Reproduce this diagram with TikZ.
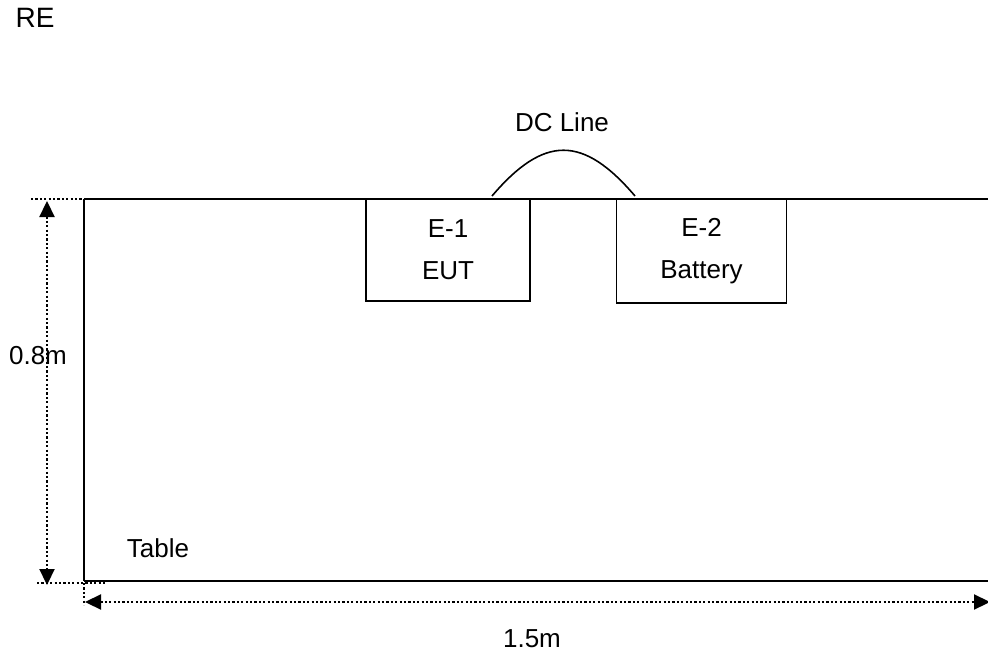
\documentclass[tikz,border=0pt]{standalone}
\usepackage{fontspec}
\setmainfont{Liberation Sans}
\usetikzlibrary{arrows.meta}

\begin{document}
\begin{tikzpicture}[x=1pt,y=-1pt,
    table/.style={line width=2.4pt},
    unitbox/.style={draw,line width=1.6pt,align=center,inner sep=0pt,
        font=\fontsize{26}{42}\selectfont},
    dimline/.style={line width=2.2pt,dash pattern=on 2.2pt off 2.2pt},
    dimarrow/.style={dimline,{Triangle[length=16pt,width=15pt]}-{Triangle[length=16pt,width=15pt]}},
    lbl/.style={font=\fontsize{26}{31}\selectfont,inner sep=0pt}]
    \useasboundingbox (0,0) rectangle (988,658);

    % 定义桌面的点
    \coordinate (A) at (84,199);
    \coordinate (B) at (84,581);
    \coordinate (C) at (992,581);
    \coordinate (D) at (992,199);

    % 桌面连线
    \draw[table] (D) -- (A);
    \draw[table] (A) -- (B);
    \draw[table] (B) -- (C);

    % 设备
    \node[unitbox,minimum width=164pt,minimum height=102pt] (eut) at (448,250) {E-1\\EUT};
    \node[unitbox,minimum width=170pt,minimum height=104pt] (bat) at (701.5,251) {E-2\\Battery};

    % DC 线
    \coordinate (P) at (492,196);
    \coordinate (Q) at (635,196);
    \draw[line width=1.6pt] (P) .. controls (544,135) and (583,135) .. (Q);
    \node[lbl] (dc) at (562,122) {DC Line};

    % 尺寸线
    \coordinate (H1) at (31,199);
    \coordinate (H2) at (37,583);
    \coordinate (H3) at (107,583);
    \coordinate (V1) at (47,201);
    \coordinate (V2) at (47,585);
    \coordinate (W0) at (84,583);
    \coordinate (W1) at (84,605);
    \coordinate (L1) at (85,602);
    \coordinate (L2) at (990,602);
    \draw[dimline] (H1) -- (A);
    \draw[dimline] (H2) -- (H3);
    \draw[dimline] (W0) -- (W1);
    \draw[dimarrow] (V1) -- (V2);
    \draw[dimarrow] (L1) -- (L2);

    % 文字
    \node[lbl,font=\fontsize{28}{33}\selectfont] (re) at (35,18) {RE};
    \node[lbl] (h) at (38,356) {0.8m};
    \node[lbl] (tab) at (158,548) {Table};
    \node[lbl] (w) at (532,639) {1.5m};

\end{tikzpicture}
\end{document}
